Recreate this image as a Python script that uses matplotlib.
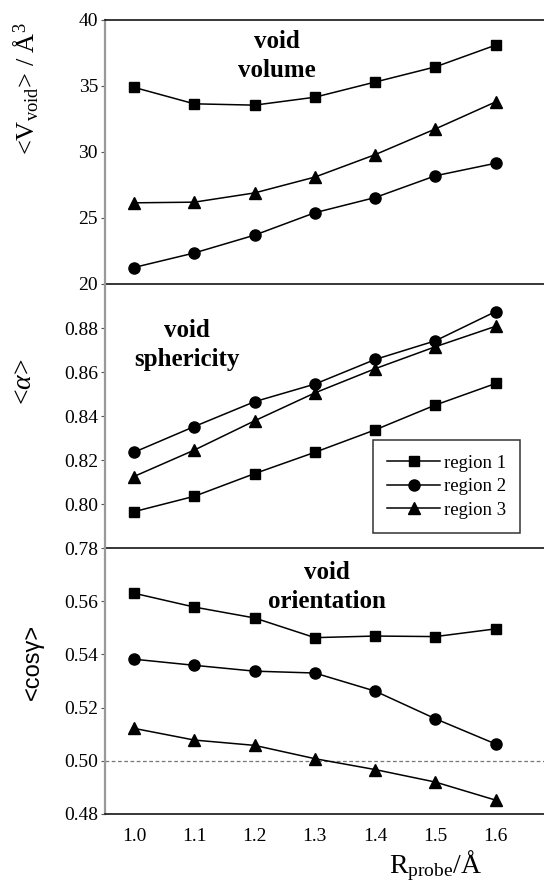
import matplotlib
matplotlib.use("Agg")
import matplotlib.pyplot as plt

plt.rcParams['font.family'] = ['Liberation Serif', 'DejaVu Serif']
plt.rcParams['mathtext.fontset'] = 'custom'
plt.rcParams['mathtext.rm'] = 'Liberation Serif'
plt.rcParams['mathtext.it'] = 'Liberation Serif:italic'

r_probe = [1.0, 1.1, 1.2, 1.3, 1.4, 1.5, 1.6]
x_ticklabels = ["1.0", "1.1", "1.2", "1.3", "1.4", "1.5", "1.6"]
labels = ["region 1", "region 2", "region 3"]
markers = ["s", "o", "^"]

# void volume  <V_void> / A^3
vol_r1 = [34.9, 33.65, 33.55, 34.15, 35.3, 36.45, 38.1]
vol_r2 = [21.25, 22.35, 23.7, 25.4, 26.55, 28.2, 29.15]
vol_r3 = [26.15, 26.2, 26.9, 28.1, 29.8, 31.75, 33.8]

# void sphericity <alpha>
sph_r1 = [0.7965, 0.8035, 0.8138, 0.8235, 0.8337, 0.8450, 0.8548]
sph_r2 = [0.8235, 0.8352, 0.8465, 0.8545, 0.8657, 0.8742, 0.8875]
sph_r3 = [0.8125, 0.8245, 0.8378, 0.8505, 0.8615, 0.8715, 0.8808]

# void orientation <cos gamma>
ori_r1 = [0.5630, 0.5578, 0.5537, 0.5463, 0.5469, 0.5467, 0.5496]
ori_r2 = [0.5382, 0.5359, 0.5337, 0.5330, 0.5262, 0.5158, 0.5063]
ori_r3 = [0.5122, 0.5078, 0.5058, 0.5008, 0.4967, 0.4920, 0.4852]

panels = [
    ([vol_r1, vol_r2, vol_r3], (20, 40), [20, 25, 30, 35, 40], "{:.0f}",
     r"<V$_{\mathrm{void}}$> / $\mathrm{\AA}^3$", "void\nvolume", (277, 56)),
    ([sph_r1, sph_r2, sph_r3], (0.78, 0.90), [0.78, 0.80, 0.82, 0.84, 0.86, 0.88], "{:.2f}",
     r"<$\alpha$>", "void\nsphericity", (187, 345)),
    ([ori_r1, ori_r2, ori_r3], (0.48, 0.58), [0.48, 0.50, 0.52, 0.54, 0.56], "{:.2f}",
     "<cosγ>", "void\norientation", (327, 587)),
]

W, H = 544, 884
fig = plt.figure(figsize=(W / 100, H / 100), dpi=100)

edges = [20, 284, 548, 814]
left, right = 105, 544
axes = []
for i, (series, ylim, yticks, fmt, ylab, note, npos) in enumerate(panels):
    top, bot = edges[i], edges[i + 1]
    ax = fig.add_axes([left / W, 1 - bot / H, (right - left) / W, (bot - top) / H])
    ax.patch.set_visible(False)
    axes.append(ax)
    for vals, m, lab in zip(series, markers, labels):
        ax.plot(r_probe, vals, color="black", lw=1.1, marker=m,
                markersize=8 if m != "s" else 7, label=lab, clip_on=False)
    ax.set_xlim(0.952, 1.68)
    ax.set_ylim(*ylim)
    ax.set_yticks(yticks)
    ax.set_yticklabels([fmt.format(v) for v in yticks], fontsize=14)
    ax.tick_params(axis="y", length=3, width=0.8, pad=2, color="#555555")
    ax.spines["right"].set_visible(False)
    ax.spines["top"].set_visible(i == 0)
    ax.spines["top"].set_linewidth(1.1)
    ax.spines["bottom"].set_linewidth(1.1)
    ax.spines["left"].set_color("#999999")
    ax.spines["left"].set_linewidth(1.6)
    fig.text(npos[0] / W, 1 - npos[1] / H, note, ha="center", va="center",
             fontsize=18, fontweight="bold", linespacing=1.3)
    if i < 2:
        ax.set_xticks(r_probe)
        ax.tick_params(axis="x", bottom=False, labelbottom=False)

axes[0].set_ylabel(panels[0][4], fontsize=19)
axes[1].set_ylabel(panels[1][4], fontsize=20)
axes[2].set_ylabel(panels[2][4], fontsize=17, family=["Liberation Sans", "DejaVu Sans"])
axes[0].yaxis.set_label_coords(-0.145, 0.74)
axes[1].yaxis.set_label_coords(-0.155, 0.63)
axes[2].yaxis.set_label_coords(-0.14, 0.57)

ax = axes[2]
ax.axhline(0.50, color="#777777", lw=0.9, ls=(0, (3, 2)), zorder=0)
ax.set_xticks(r_probe)
ax.set_xticklabels(x_ticklabels, fontsize=14)
ax.tick_params(axis="x", length=0, pad=10)
ax.set_xlabel(r"R$_{\mathrm{probe}}$/$\mathrm{\AA}$", fontsize=20)
ax.xaxis.set_label_coords((436 - left) / (right - left), -0.13)

leg = axes[1].legend(loc="lower right", bbox_to_anchor=(0.945, 0.057), fontsize=13.5,
                     frameon=True, fancybox=False, edgecolor="black",
                     handlelength=2.8, handletextpad=0.2, borderpad=0.75,
                     labelspacing=0.35, borderaxespad=0)
leg.get_frame().set_linewidth(1.1)

fig.savefig("out.png", dpi=100)
